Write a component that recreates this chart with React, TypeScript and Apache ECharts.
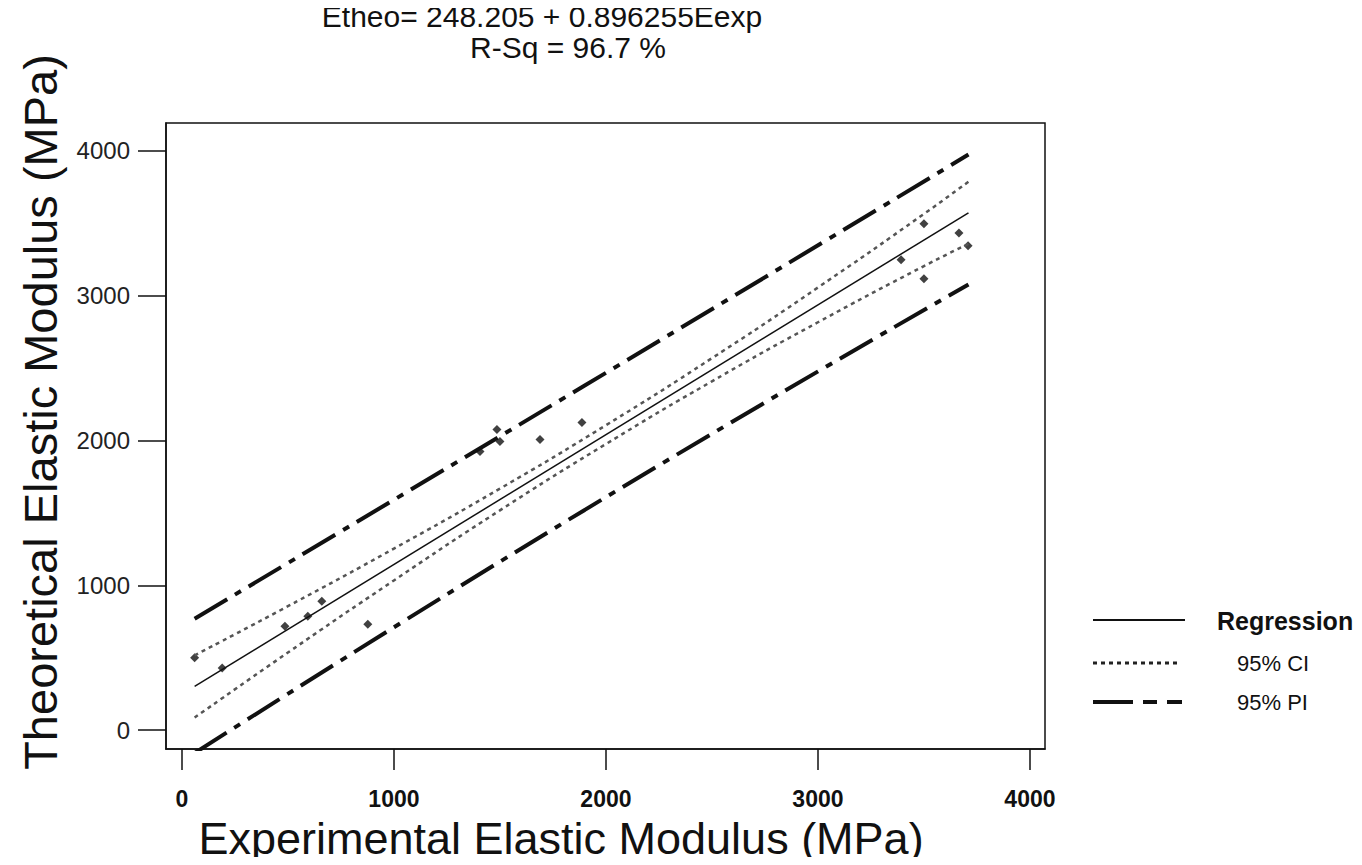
import React, { useEffect, useRef } from "react";
import * as echarts from "echarts";

// ---- data ----
const titleLine1 = "Etheo= 248.205 + 0.896255Eexp";
const titleLine2 = "R-Sq = 96.7 %";
const xAxisTitle = "Experimental Elastic Modulus (MPa)";
const yAxisTitle = "Theoretical Elastic Modulus (MPa)";
const xTicks = [0, 1000, 2000, 3000, 4000];
const yTicks = [0, 1000, 2000, 3000, 4000];

const pointsX = [60, 190, 486, 594, 660, 877, 1406, 1486, 1500, 1689, 1887, 3392, 3500, 3500, 3665, 3708];
const pointsY = [500, 430, 717, 786, 890, 731, 1924, 2076, 1993, 2007, 2124, 3248, 3497, 3117, 3434, 3345];

const regX = [60, 3710];
const regY = [302, 3573];

const ciX = [60, 500, 1000, 1500, 2000, 2500, 3000, 3500, 3710];
const ciUpper = [517, 856, 1254, 1668, 2106, 2569, 3057, 3565, 3788];
const ciLower = [87, 536, 1034, 1518, 1976, 2409, 2817, 3205, 3358];

const piX = [60, 1900, 3710];
const piUpper = [770, 2380, 3975];
const piLower = [-158, 1521, 3078];

const legendLabels = ["Regression", "95% CI", "95% PI"];

const zip = (xs: number[], ys: number[]) => xs.map((x, i) => [x, ys[i]]);

const FONT = "'Liberation Sans', Arial, sans-serif";
const PI_DASH = [38, 9, 7, 9];
const CI_DASH = [4, 4];

export default function App() {
  const ref = useRef<HTMLDivElement>(null);
  useEffect(() => {
    if (!ref.current) return;
    const chart = echarts.init(ref.current, null, { renderer: "svg" });
    chart.setOption({
      animation: false,
      backgroundColor: "#ffffff",
      grid: {
        left: 166,
        right: 317,
        top: 123,
        bottom: 116,
        show: true,
        borderColor: "#111",
        borderWidth: 1.5,
        backgroundColor: "transparent",
      },
      xAxis: {
        type: "value",
        min: -75,
        max: 4071,
        splitLine: { show: false },
        axisLine: { show: true, onZero: false, lineStyle: { color: "#111", width: 1.5 } },
        axisTick: {
          show: true,
          inside: false,
          length: 21,
          customValues: xTicks,
          lineStyle: { color: "#111", width: 1.5 },
        },
        axisLabel: {
          customValues: xTicks,
          formatter: (v: number) => String(v),
          margin: 38,
          fontSize: 23,
          fontWeight: "bold",
          fontFamily: FONT,
          color: "#111",
        },
      },
      yAxis: {
        type: "value",
        min: -130,
        max: 4193,
        splitLine: { show: false },
        axisLine: { show: true, onZero: false, lineStyle: { color: "#111", width: 1.5 } },
        axisTick: {
          show: true,
          inside: false,
          length: 28,
          customValues: yTicks,
          lineStyle: { color: "#111", width: 1.5 },
        },
        axisLabel: {
          customValues: yTicks,
          formatter: (v: number) => String(v),
          margin: 36,
          fontSize: 24,
          fontFamily: FONT,
          color: "#222",
        },
      },
      series: [
        {
          name: "95% PI upper",
          type: "line",
          data: zip(piX, piUpper),
          showSymbol: false,
          smooth: true,
          lineStyle: { color: "#111", width: 4, type: PI_DASH },
        },
        {
          name: "95% PI lower",
          type: "line",
          data: zip(piX, piLower),
          showSymbol: false,
          smooth: true,
          lineStyle: { color: "#111", width: 4, type: PI_DASH },
        },
        {
          name: "95% CI upper",
          type: "line",
          data: zip(ciX, ciUpper),
          showSymbol: false,
          smooth: true,
          lineStyle: { color: "#555", width: 2.5, type: CI_DASH },
        },
        {
          name: "95% CI lower",
          type: "line",
          data: zip(ciX, ciLower),
          showSymbol: false,
          smooth: true,
          lineStyle: { color: "#555", width: 2.5, type: CI_DASH },
        },
        {
          name: "Regression",
          type: "line",
          data: zip(regX, regY),
          showSymbol: false,
          lineStyle: { color: "#111", width: 1.5, type: "solid" },
        },
        {
          name: "Data",
          type: "scatter",
          data: zip(pointsX, pointsY),
          symbol: "diamond",
          symbolSize: 9,
          itemStyle: { color: "#111" },
        },
      ],
      graphic: [
        {
          type: "text",
          x: 542,
          y: 16,
          style: { text: titleLine1, font: `30px ${FONT}`, fill: "#111", align: "center", verticalAlign: "middle" },
        },
        {
          type: "text",
          x: 568,
          y: 47,
          style: { text: titleLine2, font: `30px ${FONT}`, fill: "#111", align: "center", verticalAlign: "middle" },
        },
        {
          type: "text",
          x: 561,
          y: 838,
          style: { text: xAxisTitle, font: `45px ${FONT}`, fill: "#111", align: "center", verticalAlign: "middle" },
        },
        {
          type: "text",
          x: 40,
          y: 412,
          rotation: Math.PI / 2,
          style: { text: yAxisTitle, font: `47px ${FONT}`, fill: "#111", align: "center", verticalAlign: "middle" },
        },
        // legend
        {
          type: "line",
          shape: { x1: 1093, y1: 620, x2: 1185, y2: 620 },
          style: { stroke: "#111", lineWidth: 2 },
        },
        {
          type: "text",
          x: 1217,
          y: 621,
          style: { text: legendLabels[0], font: `bold 25px ${FONT}`, fill: "#111", align: "left", verticalAlign: "middle" },
        },
        {
          type: "line",
          shape: { x1: 1093, y1: 663, x2: 1178, y2: 663 },
          style: { stroke: "#222", lineWidth: 3, lineDash: [4, 4] },
        },
        {
          type: "text",
          x: 1237,
          y: 663,
          style: { text: legendLabels[1], font: `22px ${FONT}`, fill: "#111", align: "left", verticalAlign: "middle" },
        },
        {
          type: "line",
          shape: { x1: 1093, y1: 702, x2: 1182, y2: 702 },
          style: { stroke: "#111", lineWidth: 4, lineDash: [40, 10, 14, 10] },
        },
        {
          type: "text",
          x: 1237,
          y: 702,
          style: { text: legendLabels[2], font: `22px ${FONT}`, fill: "#111", align: "left", verticalAlign: "middle" },
        },
      ],
    });
    return () => chart.dispose();
  }, []);
  return <div ref={ref} style={{ width: 1362, height: 865, margin: -8 }} />;
}
